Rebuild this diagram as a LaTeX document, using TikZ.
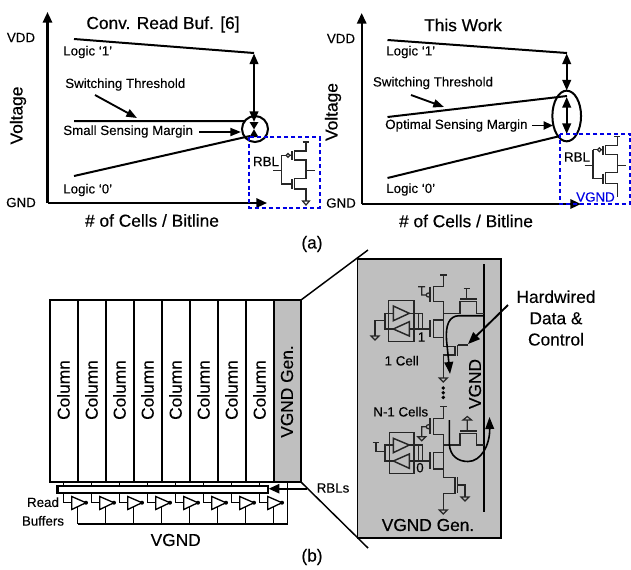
\documentclass[tikz,border=0pt]{standalone}
\usepackage{fontspec}
\setmainfont{Liberation Sans}
\newfontfamily\medfont[FakeBold=0.5]{Liberation Sans}
\newfontfamily\lightfont[FakeBold=0.15]{Liberation Sans}
\usetikzlibrary{arrows.meta,shapes.geometric}
\tikzset{
  ax/.style={line width=1.6pt,-{Triangle[length=8pt,width=7pt]}},
  cur/.style={line width=1.5pt},
  dbl/.style={line width=1.5pt,{Triangle[length=8pt,width=6.5pt]}-{Triangle[length=8pt,width=6.5pt]}},
  ptr/.style={line width=1.4pt,-{Triangle[length=8pt,width=6pt]}},
  lab/.style={font=\fontsize{10}{12}\selectfont\lightfont,inner sep=0pt},
  big/.style={font=\fontsize{13}{15}\selectfont\medfont,inner sep=0pt},
  bigp/.style={font=\fontsize{13}{16}\selectfont\lightfont,inner sep=0pt},
  ckt/.style={line width=0.9pt,draw=black!85},
  plate/.style={line width=1.4pt,draw=black!85},
  blubox/.style={draw=blue!90!black,line width=1.5pt,dash pattern=on 3pt off 2.2pt},
  buf/.style={draw=black,fill=white,line width=1pt,line join=miter},
  latch/.style={draw=black!85,line width=1.1pt},
}
\newcommand\mygnd[3][3.4]{\draw[ckt] (#2-#1,#3)--(#2+#1,#3)--(#2,#3+4)--cycle;}
\newcommand\myinv[3]{%
 \begin{scope}[shift={(#1,#2)}]
  \draw[ckt] (302.7,142)--(309,142) (306,142)--(306,151)--(294.3,151)--(294.3,160)--(306,160)--(306,178.3)--(294.3,178.3)--(294.3,189)--(306,189)--(306,#3);
  \draw[ckt] (306,170.7)--(315,170.7) (273.3,170.7)--(281.7,170.7) (281.7,155.3)--(281.7,184)--(291.7,184) (281.7,155.3)--(286,155.3);
  \draw[plate] (291.7,151)--(291.7,160) (291.7,179)--(291.7,189);
  \draw[ckt] (288,155.3) circle (1.9) (290,155.3)--(291.7,155.3);
 \end{scope}}
\begin{document}
\begin{tikzpicture}[x=0.75pt,y=-0.75pt]
\useasboundingbox (0,0) rectangle (631,569);
\fill[white] (0,0) rectangle (631,569);

% ---------- left chart
\coordinate (lo) at (47.5,203);
\coordinate (ltop) at (47.5,12);
\coordinate (lright) at (267,203);
\draw[ax] (lo)--(ltop);
\draw[ax] (lo)--(lright);
\node[lab] (lvdd) at (21,37.5) {VDD};
\node[lab] (lgnd) at (21,202.5) {GND};
\node[big] (ltitle) at (163,24.5) {Conv. Read Buf. [6]};
\node[big,rotate=90] (lvolt) at (18,115.5) {Voltage};
\node[big] (lxlab) at (152,220.5) {\# of Cells / Bitline};
\node[lab,anchor=west] (ll1) at (63,52) {Logic ‘1’};
\node[lab,anchor=west] (lsw) at (65,84.5) {Switching Threshold};
\node[lab,anchor=west] (lsm) at (63,131.5) {Small Sensing Margin};
\node[lab,anchor=west] (ll0) at (63,190) {Logic ‘0’};
\coordinate (l1a) at (74,39); \coordinate (l1b) at (254,53);
\coordinate (lta) at (74,121); \coordinate (ltb) at (245,121);
\coordinate (l0a) at (74,176); \coordinate (l0b) at (250,136);
\draw[cur] (l1a)--(l1b) (lta)--(ltb) (l0a)--(l0b);
\draw[dbl] (254,53.5)--(254,122);
\fill (249.5,122)--(258.5,122)--(254,129.3)--(258.5,137)--(249.5,137)--(254,129.3)--cycle;
\node[circle,draw,line width=1.5pt,minimum size=19.5pt,inner sep=0pt] (lcirc) at (255,129) {};
\coordinate (lswa) at (95,95); \coordinate (lswb) at (137,118);
\draw[ptr] (lswa)--(lswb);
\coordinate (lsma) at (199,132); \coordinate (lsmb) at (241,132);
\draw[ptr] (lsma)--(lsmb);
\myinv{0}{0}{200.7}
\mygnd{306}{201}
\node[lab] (lrbl) at (266,161.5) {RBL};
\draw[blubox] (249,137) rectangle (319.5,207.5);

% ---------- right chart
\coordinate (ro) at (361.7,204);
\coordinate (rtop) at (361.7,13);
\coordinate (rright) at (581,204);
\draw[ax] (ro)--(rtop);
\draw[ax] (ro)--(rright);
\node[lab] (rvdd) at (341,38.5) {VDD};
\node[lab] (rgnd) at (341,203) {GND};
\node[big] (rtitle) at (463,25) {This Work};
\node[big,rotate=90] (rvolt) at (333,112) {Voltage};
\node[big] (rxlab) at (466,221) {\# of Cells / Bitline};
\node[lab,anchor=west] (rl1) at (386,52) {Logic ‘1’};
\node[lab,anchor=west] (rsw) at (372.7,83) {Switching Threshold};
\node[lab,anchor=west] (rsm) at (385,125.5) {Optimal Sensing Margin};
\node[lab,anchor=west] (rl0) at (386,189.5) {Logic ‘0’};
\coordinate (r1a) at (387.5,40); \coordinate (r1b) at (567,53);
\coordinate (rta) at (387.5,117); \coordinate (rtb) at (567,96);
\coordinate (r0a) at (387.5,178); \coordinate (r0b) at (560,136);
\draw[cur] (r1a)--(r1b) (rta)--(rtb) (r0a)--(r0b);
\draw[dbl] (566.7,53.5)--(566.7,90.5);
\draw[dbl] (566.7,97)--(566.7,134);
\node[ellipse,draw,line width=1.5pt,minimum width=21.5pt,minimum height=38pt,inner sep=0pt] (rell) at (566.7,116) {};
\coordinate (rswa) at (411,95); \coordinate (rswb) at (444,107);
\draw[ptr] (rswa)--(rswb);
\coordinate (rsma) at (532,125.5); \coordinate (rsmb) at (553,125.5);
\draw[line width=1.4pt,-{Triangle[length=7pt,width=6pt]}] (rsma)--(rsmb);
\myinv{311.3}{-5.5}{202.2}
\node[lab] (rrbl) at (577,157) {RBL};
\node[lab,text=blue!90!black] (rvg) at (595.5,197) {VGND};
\draw[blubox] (560,133.5) rectangle (630,203.5);

\node[bigp] (capa) at (312,244) {(a)};
\node[bigp] (capb) at (312,557) {(b)};

% ---------- column array
\foreach \i in {0,...,7}{
  \draw[line width=1.1pt] ({50+28*\i},300) rectangle ({78+28*\i},482);
  \node[bigp,rotate=90] (col\i) at ({63.5+28*\i},390) {Column};
}
\draw[line width=1.1pt,fill=black!25] (274,300) rectangle (301,482);
\node[bigp,rotate=90] (gen) at (287,391.5) {VGND Gen.};

% read buffers
\draw[line width=1.1pt] (77.7,524)--(287.7,524) (287.7,482)--(287.7,524);
\foreach \i in {0,...,7}{
  \draw[line width=1.1pt] ({63.3+28*\i},482)--({63.3+28*\i},502.7)--({71.7+28*\i},502.7);
  \draw[line width=1.1pt] ({77.7+28*\i},502)--({77.7+28*\i},524);
  \draw[buf] ({71.7+28*\i},496.5)--({71.7+28*\i},509.5)--({86+28*\i},502.7)--cycle;
  \fill ({86+28*\i},502.7) circle (2);
}
\draw[line width=1.6pt,fill=white] (57.5,486) rectangle (268,493);
\node[lab] (rbls) at (333,488) {RBLs};
\coordinate (rblsend) at (306.7,488.7);
\coordinate (busend) at (268.7,488.7);
\draw[line width=1.2pt,-{Triangle[length=8pt,width=7pt]}] (rblsend)--(busend);
\node[lab,align=center] (rb) at (43,511.5) {Read\\[2pt]Buffers};
\node[bigp] (vg2) at (175.7,540) {VGND};

% zoom lines
\draw[line width=1.1pt] (301,300)--(368,250);
\draw[line width=1.1pt] (301,482)--(368,548);
\draw[line width=1.3pt,fill=black!25] (357.5,259) rectangle (500.7,538);

% ---------- VGND generator
\draw[line width=1.3pt] (484,264)--(484,511.7);
\node[bigp,rotate=90] (vgv) at (475,384) {VGND};
\node[lab] (c1) at (401.7,360.7) {1 Cell};
\node[lab] (cn) at (400.7,411.7) {N-1 Cells};
\node[lab] (one) at (421.5,337) {1};
\node[lab] (zero) at (420,467.7) {0};
\node[big] (gen2) at (428,525) {VGND Gen.};

% upper cell
\draw[ckt] (440,275)--(446.7,275) (443.3,275)--(443.3,286.7)--(433.3,286.7)--(433.3,301.7)--(443.3,301.7)--(443.3,337.3)--(433.3,337.3)--(433.3,320)--(443.3,320);
\draw[ckt] (443.3,337.3)--(443.3,346.7)--(455,346.7)--(455,355)--(443.3,355)--(443.3,378);
\draw[plate] (430.3,286.7)--(430.3,301.7) (430.3,320)--(430.3,337.3) (457.5,345)--(457.5,356);
\draw[ckt] (418,286.7)--(425,286.7) (421.7,286.7)--(421.7,295)--(426.3,295) (428.3,295) circle (2);
\draw[ckt] (443.3,313.3)--(460,313.3)--(460,301.7)--(476.7,301.7)--(476.7,313.3)--(484,313.3);
\draw[plate] (460,299.3)--(476.7,299.3);
\draw[ckt] (466.7,299)--(466.7,288.5) (463.7,288.5)--(470,288.5);
\draw[ckt] (457.5,345)--(465,345) (462,345)--(468,345);
\mygnd[4]{443.3}{378}
% upper latch
\draw[latch] (388.3,300.7) rectangle (414,341.7);
\draw[latch] (393.3,306)--(393.3,320.7)--(409.3,313.3)--cycle;
\draw[latch] (409.3,321.7)--(409.3,336)--(393.3,329)--cycle;
\draw[latch] (393.3,313.3)--(385,313.3)--(385,329)--(393.3,329);
\draw[latch] (409.3,313.3)--(422.7,313.3)--(422.7,329)--(409.3,329);
\draw[latch] (418.3,313.3)--(418.3,329);
\draw[latch] (422.7,329)--(430,329);
\draw[ckt] (385,320.7)--(375,320.7)--(375,336);
\mygnd[4]{375}{336}
% dots
\foreach \yy in {388,392.7,397.4}{\fill (443.3,\yy) circle (1.9);}
% lower cell
\draw[ckt] (440,406.7)--(446.7,406.7) (443.3,406.7)--(443.3,418.3)--(433.3,418.3)--(433.3,434.3)--(443.3,434.3)--(443.3,469)--(433.3,469)--(433.3,452.3)--(443.3,452.3);
\draw[ckt] (443.3,469)--(443.3,477.3)--(455,477.3)--(455,493.3)--(443.3,493.3)--(443.3,510);
\draw[plate] (430.3,418.3)--(430.3,434.3) (430.3,452.3)--(430.3,469) (457.5,477.3)--(457.5,493.3);
\draw[ckt] (426.3,426.7)--(421.7,426.7)--(421.7,436.7) (428.3,426.7) circle (2);
\mygnd[4]{421.7}{436.7}
\draw[ckt] (443.3,445)--(460,445)--(460,433.3)--(476.7,433.3)--(476.7,445)--(484,445);
\draw[plate] (460,431)--(476.7,431);
\draw[ckt] (467.3,431)--(467.3,420) (463,420)--(471.5,420)--(467.3,416.5)--cycle;
\draw[ckt] (457.5,485)--(465,485)--(465,496.7);
\mygnd[4]{465}{497}
\mygnd[4]{443.3}{510}
% lower latch
\draw[latch] (389.3,432.7) rectangle (414,473.3);
\draw[latch] (393.3,438.3)--(393.3,452.7)--(409.3,445)--cycle;
\draw[latch] (409.3,454)--(409.3,468.3)--(393.3,461)--cycle;
\draw[latch] (393.3,445)--(385,445)--(385,461)--(393.3,461);
\draw[latch] (409.3,445)--(422.7,445)--(422.7,461)--(409.3,461);
\draw[latch] (418.3,445)--(418.3,461);
\draw[latch] (422.7,461)--(430,461);
\draw[ckt] (385,451.7)--(376,451.7)--(376,442.7) (372.5,442.7)--(379,442.7);

% current arrows
\draw[line width=1.2pt,-{Triangle[length=9pt,width=6.5pt]}] (484,315.7)--(459,315.7) .. controls (449,316) and (445.5,325) .. (446.5,340) -- (450,374);
\draw[line width=1.2pt,-{Triangle[length=9pt,width=6.5pt]}] (449.3,420)--(449.3,444) .. controls (450,456) and (458,461.5) .. (468,461.5) .. controls (481,461.5) and (490,445) .. (489.5,417);

% hardwired
\node[bigp,align=center] (hw) at (556,318) {Hardwired\\Data \&\\Control};
\coordinate (hwa) at (508,305);
\coordinate (hwb) at (468,344);
\draw[line width=1.4pt,-{Triangle[length=9pt,width=7pt]}] (hwa)--(hwb);
\end{tikzpicture}
\end{document}
